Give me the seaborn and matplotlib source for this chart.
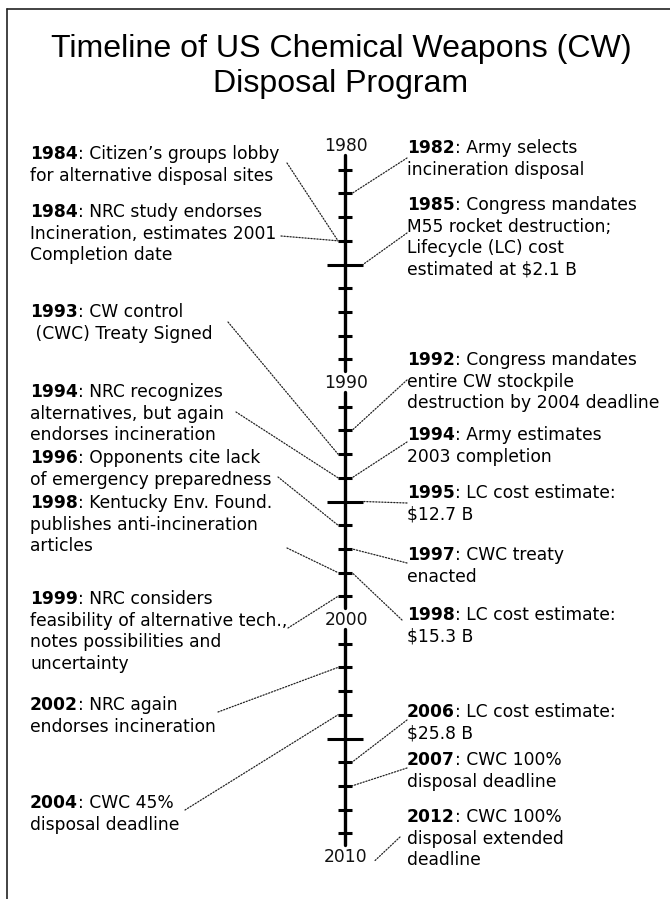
import numpy as np
import pandas as pd
import matplotlib
matplotlib.use('Agg')
import matplotlib.pyplot as plt
import seaborn as sns
from matplotlib.lines import Line2D

sns.set_theme(style='white')
plt.rcParams['font.family'] = ['DejaVu Sans']
plt.rcParams['text.color'] = 'black'

# ---- data ----
title_lines = ['Timeline of US Chemical Weapons (CW)', 'Disposal Program']
decades = [1980, 1990, 2000, 2010]
major_years = [1985, 1995, 2005]

left_years = [1984, 1984, 1993, 1994, 1996, 1998, 1999, 2002, 2004]
left_texts = [
    ['Citizen\u2019s groups lobby', 'for alternative disposal sites'],
    ['NRC study endorses', 'Incineration, estimates 2001', 'Completion date'],
    ['CW control', ' (CWC) Treaty Signed'],
    ['NRC recognizes', 'alternatives, but again', 'endorses incineration'],
    ['Opponents cite lack', 'of emergency preparedness'],
    ['Kentucky Env. Found.', 'publishes anti-incineration', 'articles'],
    ['NRC considers', 'feasibility of alternative tech.,', 'notes possibilities and', 'uncertainty'],
    ['NRC again', 'endorses incineration'],
    ['CWC 45%', 'disposal deadline'],
]

right_years = [1982, 1985, 1992, 1994, 1995, 1997, 1998, 2006, 2007, 2012]
right_texts = [
    ['Army selects', 'incineration disposal'],
    ['Congress mandates', 'M55 rocket destruction;', 'Lifecycle (LC) cost', 'estimated at $2.1 B'],
    ['Congress mandates', 'entire CW stockpile', 'destruction by 2004 deadline'],
    ['Army estimates', '2003 completion'],
    ['LC cost estimate:', '$12.7 B'],
    ['CWC treaty', 'enacted'],
    ['LC cost estimate:', '$15.3 B'],
    ['LC cost estimate:', '$25.8 B'],
    ['CWC 100%', 'disposal deadline'],
    ['CWC 100%', 'disposal extended', 'deadline'],
]

# ---- layout (pixels from top) ----
W, H = 670, 899
AXIS_X = 345
Y0_PX, PX_PER_YEAR = 146, 23.7
LINE_H = 21.6
left_x, right_x = 30, 407
left_base = [159, 217, 317, 397, 463, 508, 604, 710, 808]
left_anchor = [(287, 163), (281, 236), (228, 322), (236, 412), (278, 477),
               (287, 548), (288, 628), (218, 712), (185, 810)]
right_base = [153, 210, 365, 440, 498, 560, 620, 717, 765, 822]
right_anchor = [(407, 158), (407, 233), (407, 380), (407, 442), (407, 503),
                (407, 563), (402, 620), (407, 720), (407, 768), (400, 837)]

fs = 12.3
fig = plt.figure(figsize=(W / 100, H / 100), dpi=100)
ax = fig.add_axes([0, 0, 1, 1])
ax.set_xlim(0, W)
ax.set_ylim(1980 + (H - Y0_PX) / PX_PER_YEAR, 1980 - Y0_PX / PX_PER_YEAR)
ax.axis('off')

# axis spine segments between decade labels
seg = pd.DataFrame({
    'x': [AXIS_X] * 6,
    'year': [d + off for d in decades[:-1] for off in (0.38, 9.5)],
    'seg': [d for d in decades[:-1] for _ in range(2)],
})
sns.lineplot(data=seg, x='x', y='year', units='seg', estimator=None, sort=False,
             color='black', lw=2.4, ax=ax, legend=False)

tick_years = [y for y in range(1981, 2010) if y % 10 != 0]
half = {y: (18 if y in major_years else 7) for y in tick_years}
ax.hlines(tick_years, [AXIS_X - half[y] for y in tick_years],
          [AXIS_X + half[y] for y in tick_years], color='black', lw=2.2)

for d in decades:
    ax.text(AXIS_X + 1, d, str(d), ha='center', va='center', fontsize=fs, color='#111')


def py(y):
    return H - y


def event(x, base, year, lines):
    t = fig.text(x / W, py(base) / H, str(year), fontsize=fs, weight='bold',
                 ha='left', va='baseline', color='black')
    ax.annotate(': ' + lines[0], xy=(1, 0), xycoords=t, ha='left', va='bottom',
                fontsize=fs, color='black')
    for i, ln in enumerate(lines[1:], start=1):
        fig.text(x / W, py(base + i * LINE_H) / H, ln, fontsize=fs,
                 ha='left', va='baseline', color='black')


def connect(anchor, year, side):
    if year > decades[-1]:
        xe, ye = AXIS_X + 30, decades[-1] + 0.15
    else:
        h = 18 if year in major_years else 7
        xe = AXIS_X - h if side == 'left' else AXIS_X + h
        ye = year
    ax.annotate('', xy=(xe, ye), xycoords='data',
                xytext=(anchor[0], py(anchor[1])), textcoords='figure pixels',
                arrowprops=dict(arrowstyle='-', linestyle=(0, (1, 1.4)), lw=0.9,
                                color='#222', shrinkA=0, shrinkB=0))


for yr, lines, b, a in zip(left_years, left_texts, left_base, left_anchor):
    event(left_x, b, yr, lines)
    connect(a, yr, 'left')
for yr, lines, b, a in zip(right_years, right_texts, right_base, right_anchor):
    event(right_x, b, yr, lines)
    connect(a, yr, 'right')

# title
for ln, b in zip(title_lines, (57, 92)):
    fig.text(341 / W, py(b) / H, ln, fontsize=23.1, ha='center', va='baseline',
             color='black', family=['Liberation Sans', 'DejaVu Sans'])

# frame (left and top edges)
fig.add_artist(Line2D([7 / W, 7 / W], [0, py(9) / H], color='#222', lw=1.2,
                      transform=fig.transFigure))
fig.add_artist(Line2D([7 / W, 1], [py(9) / H, py(9) / H], color='#222', lw=1.2,
                      transform=fig.transFigure))

fig.savefig('out.png', dpi=100, facecolor='white')
